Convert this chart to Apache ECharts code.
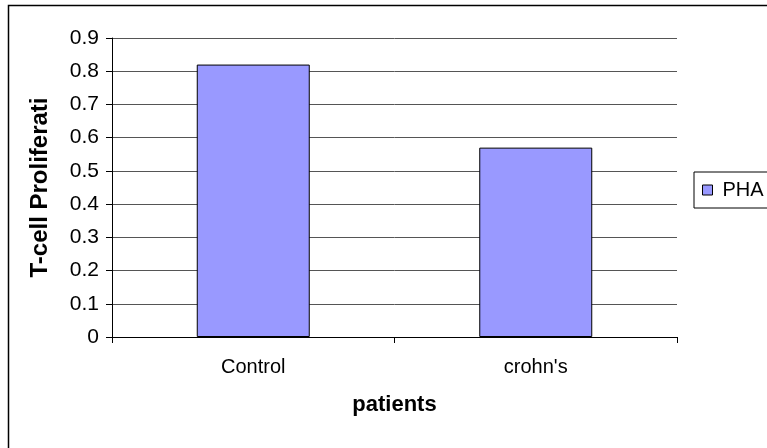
<!DOCTYPE html>
<html>
<head>
<meta charset="utf-8">
<script src="https://cdn.jsdelivr.net/npm/echarts@6/dist/echarts.min.js"></script>
<style>
  html, body { margin: 0; padding: 0; background: #fff; }
  #chart { width: 767px; height: 448px; }
</style>
</head>
<body>
<div id="chart"></div>
<script>
const categories = ["Control", "crohn's"];
const seriesName = "PHA";
const phaValues = [0.82, 0.57];
const yTitle = "T-cell Proliferation";
const xTitle = "patients";

const chart = echarts.init(document.getElementById('chart'), null, { renderer: 'canvas' });
const font = 'Arial, "Liberation Sans", sans-serif';

chart.setOption({
  animation: false,
  backgroundColor: '#ffffff',
  graphic: [{
    type: 'rect',
    z: -10,
    shape: { x: 8.5, y: 5.5, width: 900, height: 600 },
    style: { fill: 'none', stroke: '#000', lineWidth: 1.5 }
  }],
  grid: { left: 112, right: 90, top: 38, bottom: 111, containLabel: false },
  legend: {
    data: [seriesName],
    left: 694,
    top: 172,
    orient: 'vertical',
    padding: [8, 30, 8, 8],
    itemWidth: 10,
    itemHeight: 10,
    itemGap: 0,
    borderColor: '#000',
    borderWidth: 1,
    icon: 'rect',
    itemStyle: { borderColor: '#000', borderWidth: 1 },
    textStyle: { fontFamily: font, fontSize: 20, color: '#000', padding: [0, 0, 0, 5] }
  },
  xAxis: {
    type: 'category',
    data: categories,
    name: xTitle,
    nameLocation: 'middle',
    nameGap: 57,
    nameTextStyle: { fontFamily: font, fontSize: 22, fontWeight: 'bold', color: '#000' },
    axisLine: { lineStyle: { color: '#000', width: 1 } },
    axisTick: { show: true, length: 6, alignWithLabel: false, lineStyle: { color: '#000' } },
    axisLabel: { fontFamily: font, fontSize: 20, color: '#000', margin: 20 },
    splitLine: { show: false }
  },
  yAxis: {
    type: 'value',
    min: 0,
    max: 0.9,
    interval: 0.1,
    name: yTitle,
    nameLocation: 'middle',
    nameGap: 60,
    nameTruncate: { maxWidth: 186, ellipsis: '' },
    nameTextStyle: { fontFamily: font, fontSize: 24, fontWeight: 'bold', color: '#000' },
    axisLine: { show: true, lineStyle: { color: '#000', width: 1 } },
    axisTick: { show: true, length: 6, lineStyle: { color: '#000' } },
    axisLabel: { fontFamily: font, fontSize: 21, color: '#000', margin: 13 },
    splitLine: { show: true, lineStyle: { color: '#555', width: 1 } }
  },
  series: [{
    name: seriesName,
    type: 'bar',
    data: phaValues,
    barWidth: '40%',
    itemStyle: { color: '#9999FF', borderColor: '#000', borderWidth: 1 }
  }]
});
</script>
</body>
</html>
